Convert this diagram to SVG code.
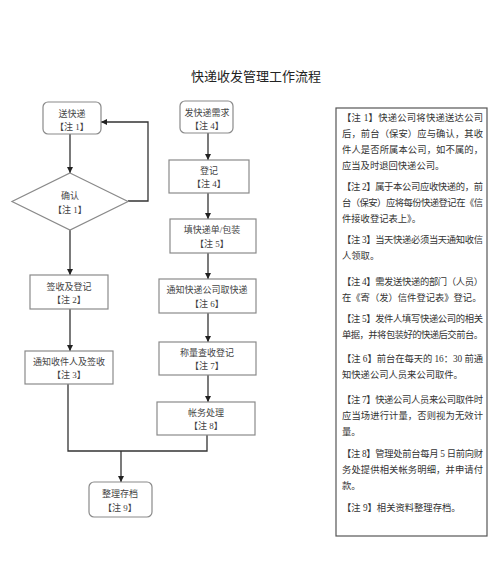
<svg xmlns="http://www.w3.org/2000/svg" width="500" height="578" viewBox="0 0 500 578">
<defs>
<marker id="ah" viewBox="0 0 10 10" refX="10" refY="5" markerWidth="6" markerHeight="6" orient="auto" markerUnits="userSpaceOnUse"><path d="M0,0 L10,5 L0,10 z" fill="#222"/></marker>
<style>
.box{fill:#fff;stroke:#8a8a8a;stroke-width:1.2}
.t{font-family:"Liberation Serif","Noto Sans CJK SC",serif;font-size:9px;fill:#444;text-anchor:middle}
.c{fill:none;stroke:#333;stroke-width:1.3}
.n{font-family:"Liberation Serif","Noto Sans CJK SC",serif;font-size:9.3px;fill:#333}
.title{font-family:"Liberation Serif","Noto Sans CJK SC",serif;font-size:13px;fill:#222;text-anchor:middle}
</style>
</defs>
<rect width="500" height="578" fill="#fff"/>
<text class="title" x="256" y="81">快递收发管理工作流程</text>

<g id="connectors">
<path class="c" d="M70,134 V173" marker-end="url(#ah)"/>
<path class="c" d="M128,201 H148 V122 H101" marker-end="url(#ah)"/>
<path class="c" d="M70,230 V275" marker-end="url(#ah)"/>
<path class="c" d="M70,309 V351" marker-end="url(#ah)"/>
<path class="c" d="M68,384 V451 H207 V435"/>
<path class="c" d="M121,451 V482" marker-end="url(#ah)"/>
<path class="c" d="M208,133 V160" marker-end="url(#ah)"/>
<path class="c" d="M208,193 V219" marker-end="url(#ah)"/>
<path class="c" d="M208,253 V279" marker-end="url(#ah)"/>
<path class="c" d="M208,313 V342" marker-end="url(#ah)"/>
<path class="c" d="M208,375 V402" marker-end="url(#ah)"/>
</g>

<g id="n1"><rect class="box" x="43" y="102" width="58" height="32" rx="5"/><text class="t" x="72" y="117">送快递</text><text class="t" x="72" y="130">【注 1】</text></g>
<g id="n2"><path class="box" d="M70,173 L128,201.5 L70,230 L12,201.5 Z"/><text class="t" x="70" y="199">确认</text><text class="t" x="70" y="213">【注 1】</text></g>
<g id="n3"><rect class="box" x="30" y="275" width="78" height="34"/><text class="t" x="69" y="290">签收及登记</text><text class="t" x="69" y="303">【注 2】</text></g>
<g id="n4"><rect class="box" x="25" y="351" width="88" height="33"/><text class="t" x="69" y="365">通知收件人及签收</text><text class="t" x="69" y="378">【注 3】</text></g>
<g id="n5"><rect class="box" x="180" y="101" width="53" height="32" rx="5"/><text class="t" x="207" y="116">发快递需求</text><text class="t" x="207" y="129">【注 4】</text></g>
<g id="n6"><rect class="box" x="169" y="160" width="80" height="33"/><text class="t" x="209" y="174">登记</text><text class="t" x="209" y="187">【注 4】</text></g>
<g id="n7"><rect class="box" x="170" y="219" width="86" height="34"/><text class="t" x="212" y="233">填快递单/包装</text><text class="t" x="212" y="247">【注 5】</text></g>
<g id="n8"><rect class="box" x="159" y="279" width="97" height="34"/><text class="t" x="207" y="293">通知快递公司取快递</text><text class="t" x="207" y="307">【注 6】</text></g>
<g id="n9"><rect class="box" x="159" y="342" width="97" height="33"/><text class="t" x="207" y="356">称量查收登记</text><text class="t" x="207" y="369">【注 7】</text></g>
<g id="n10"><rect class="box" x="157" y="402" width="98" height="33"/><text class="t" x="206" y="416">帐务处理</text><text class="t" x="206" y="429">【注 8】</text></g>
<g id="n11"><rect class="box" x="89" y="482" width="63" height="35" rx="5"/><text class="t" x="120" y="497">整理存档</text><text class="t" x="120" y="511">【注 9】</text></g>

<g id="notes">
<rect x="336" y="108" width="151" height="428" fill="#fff" stroke="#555" stroke-width="1.2"/>
<text class="n" x="342" y="121" textLength="141" lengthAdjust="spacing">【注 1】快递公司将快递送达公司</text>
<text class="n" x="342" y="137" textLength="141" lengthAdjust="spacing">后，前台（保安）应与确认，其收</text>
<text class="n" x="342" y="153" textLength="141" lengthAdjust="spacing">件人是否所属本公司，如不属的，</text>
<text class="n" x="342" y="169">应当及时退回快递公司。</text>
<text class="n" x="342" y="190" textLength="141" lengthAdjust="spacing">【注 2】属于本公司应收快递的，前</text>
<text class="n" x="342" y="206" textLength="141" lengthAdjust="spacing">台（保安）应将每份快递登记在《信</text>
<text class="n" x="342" y="222">件接收登记表上》。</text>
<text class="n" x="342" y="243" textLength="141" lengthAdjust="spacing">【注 3】当天快递必须当天通知收信</text>
<text class="n" x="342" y="259">人领取。</text>
<text class="n" x="342" y="285" textLength="141" lengthAdjust="spacing">【注 4】需发送快递的部门（人员）</text>
<text class="n" x="342" y="301">在《寄（发）信件登记表》登记。</text>
<text class="n" x="342" y="322" textLength="141" lengthAdjust="spacing">【注 5】发件人填写快递公司的相关</text>
<text class="n" x="342" y="338" textLength="141" lengthAdjust="spacing">单据，并将包装好的快递后交前台。</text>
<text class="n" x="342" y="362" textLength="141" lengthAdjust="spacing">【注 6】前台在每天的 16：30 前通</text>
<text class="n" x="342" y="378">知快递公司人员来公司取件。</text>
<text class="n" x="342" y="403" textLength="141" lengthAdjust="spacing">【注 7】快递公司人员来公司取件时</text>
<text class="n" x="342" y="419" textLength="141" lengthAdjust="spacing">应当场进行计量，否则视为无效计</text>
<text class="n" x="342" y="435">量。</text>
<text class="n" x="342" y="457" textLength="141" lengthAdjust="spacing">【注 8】管理处前台每月 5 日前向财</text>
<text class="n" x="342" y="473" textLength="141" lengthAdjust="spacing">务处提供相关帐务明细，并申请付</text>
<text class="n" x="342" y="489">款。</text>
<text class="n" x="342" y="511">【注 9】相关资料整理存档。</text>
</g>
</svg>
